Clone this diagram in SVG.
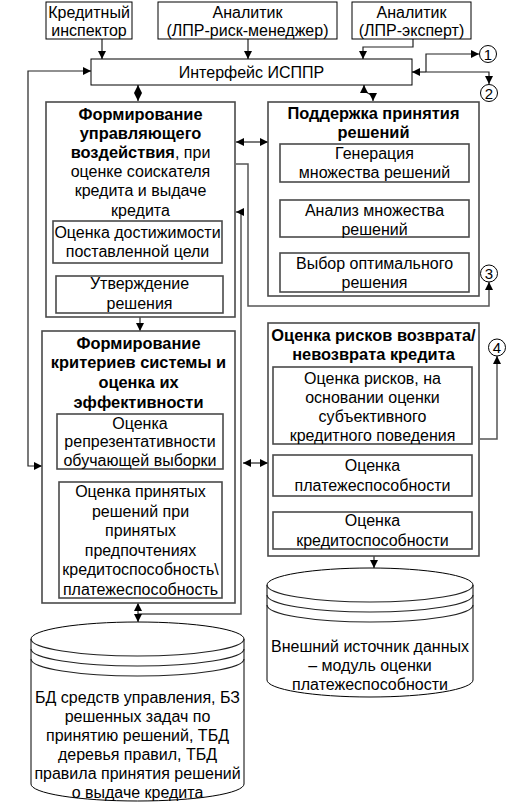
<svg xmlns="http://www.w3.org/2000/svg" width="527" height="805" viewBox="0 0 527 805">
<defs>
<style>
text{font-family:"Liberation Sans",Arial,sans-serif;font-size:16px;fill:#000;text-anchor:middle}
.b{font-weight:bold;font-size:16.4px}
.box{fill:#fff;stroke:#000;stroke-width:1}
.panel{fill:#fff;stroke:#4a4a4a;stroke-width:1.6}
.inner{fill:#fff;stroke:#4a4a4a;stroke-width:1.6}
.c{fill:none;stroke:#222;stroke-width:1.2}
.g{fill:none;stroke:#555;stroke-width:1.5}
.e{marker-end:url(#ah)}
.s{marker-start:url(#ah)}
.circ{fill:#fff;stroke:#000;stroke-width:1}
.cyl{fill:#fff;stroke:#000;stroke-width:1}
.num{font-size:15px}
</style>
<marker id="ah" viewBox="0 0 8 8" refX="8" refY="4" markerWidth="8" markerHeight="8" markerUnits="userSpaceOnUse" orient="auto-start-reverse">
<path d="M0,0 L8,4 L0,8 z" fill="#000"/>
</marker>
</defs>

<g id="connectors">
<path class="c e" d="M102,39 V59"/>
<path class="c e" d="M248,39 V59"/>
<path class="c e" d="M413,39 V47 H363 V59"/>
<path class="c s e" d="M91,71 H28 V466 H42"/>
<path class="c e" d="M426,72 H412"/>
<path class="c e" d="M426,72 V54 H479"/>
<path class="c e" d="M426,72 H489 V84"/>
<path class="c s e" d="M138,85 V101"/>
<path class="c s e" d="M364,85 V91 L373,96 V101"/>
<path class="c s e" d="M236,142 H268"/>
<path class="g e" d="M236,164 H248 V306 H489 V282"/>
<path class="g e" d="M138,614 H241 V212 H236"/>
<path class="c e" d="M140,263 V276"/>
<path class="c e" d="M140,317 V331"/>
<path class="c e" d="M141,469 V482"/>
<path class="c e" d="M374,182 V200"/>
<path class="c e" d="M374,237 V253"/>
<path class="c s e" d="M243,463 H268"/>
<path class="c e" d="M374,444 V455"/>
<path class="c e" d="M374,496 V512"/>
<path class="g e" d="M480,439 H497 V356"/>
<path class="c e" d="M374,556 V568"/>
<path class="c s e" d="M138,603 V622"/>
</g>

<g id="n-inspector">
<rect class="box" x="46" y="2" width="86" height="37"/>
<text x="89" y="17.5">Кредитный</text>
<text x="89" y="35.5">инспектор</text>
</g>
<g id="n-risk-manager">
<rect class="box" x="158" y="2" width="179" height="37"/>
<text x="247.5" y="17.5">Аналитик</text>
<text x="247.5" y="35.5">(ЛПР-риск-менеджер)</text>
</g>
<g id="n-expert">
<rect class="box" x="352" y="2" width="119" height="37"/>
<text x="411.5" y="17.5">Аналитик</text>
<text x="411.5" y="35.5">(ЛПР-эксперт)</text>
</g>
<g id="n-interface">
<rect class="box" x="91" y="59" width="321" height="26"/>
<text x="251.5" y="77.5">Интерфейс ИСППР</text>
</g>

<g id="c1"><circle class="circ" cx="488" cy="54" r="8.5"/><text class="num" x="488" y="59.5">1</text></g>
<g id="c2"><circle class="circ" cx="489" cy="93" r="8.5"/><text class="num" x="489" y="98.5">2</text></g>
<g id="c3"><circle class="circ" cx="489" cy="273.5" r="8.5"/><text class="num" x="489" y="279">3</text></g>
<g id="c4"><circle class="circ" cx="497" cy="347.5" r="8.5"/><text class="num" x="497" y="353">4</text></g>

<g id="n-control">
<rect class="panel" x="46" y="102" width="189" height="215"/>
<text class="b" x="140.5" y="119.5">Формирование</text>
<text class="b" x="140.5" y="138.7">управляющего</text>
<text x="140.5" y="157.9"><tspan class="b">воздействия</tspan>, при</text>
<text x="140.5" y="177.1">оценке соискателя</text>
<text x="140.5" y="196.3">кредита и выдаче</text>
<text x="140.5" y="215.5">кредита</text>
<rect class="inner" x="53" y="221" width="169" height="42"/>
<text x="137.5" y="238">Оценка достижимости</text>
<text x="137.5" y="257">поставленной цели</text>
<rect class="inner" x="56" y="276" width="167" height="37"/>
<text x="139.5" y="289">Утверждение</text>
<text x="139.5" y="309">решения</text>
</g>

<g id="n-support">
<rect class="panel" x="268" y="102" width="211" height="194"/>
<text class="b" x="373.5" y="119">Поддержка принятия</text>
<text class="b" x="373.5" y="137.5">решений</text>
<rect class="inner" x="280" y="144" width="189" height="38"/>
<text x="374.5" y="159">Генерация</text>
<text x="374.5" y="178">множества решений</text>
<rect class="inner" x="280" y="200" width="189" height="37"/>
<text x="374.5" y="215.5">Анализ множества</text>
<text x="374.5" y="234.5">решений</text>
<rect class="inner" x="280" y="253" width="189" height="39"/>
<text x="374.5" y="269">Выбор оптимального</text>
<text x="374.5" y="288">решения</text>
</g>

<g id="n-criteria">
<rect class="panel" x="42" y="331" width="193" height="272"/>
<text class="b" x="138.5" y="348.5">Формирование</text>
<text class="b" x="138.5" y="368">критериев системы и</text>
<text class="b" x="138.5" y="388">оценка их</text>
<text class="b" x="138.5" y="407.5">эффективности</text>
<rect class="inner" x="57" y="414" width="166" height="55"/>
<text x="140" y="428.5">Оценка</text>
<text x="140" y="447">репрезентативности</text>
<text x="140" y="465.5">обучающей выборки</text>
<rect class="inner" x="59" y="482" width="163" height="116"/>
<text x="140.5" y="497">Оценка принятых</text>
<text x="140.5" y="516.5">решений при</text>
<text x="140.5" y="536">принятых</text>
<text x="140.5" y="555.5">предпочтениях</text>
<text x="140.5" y="575">кредитоспособность\</text>
<text x="140.5" y="594.5">платежеспособность</text>
</g>

<g id="n-risk">
<rect class="panel" x="268" y="323" width="211" height="233"/>
<text class="b" x="373.5" y="340.5">Оценка рисков возврата/</text>
<text class="b" x="373.5" y="360">невозврата кредита</text>
<rect class="inner" x="273" y="367" width="199" height="77"/>
<text x="372.5" y="384">Оценка рисков, на</text>
<text x="372.5" y="403">основании оценки</text>
<text x="372.5" y="422">субъективного</text>
<text x="372.5" y="441">кредитного поведения</text>
<rect class="inner" x="273" y="455" width="199" height="41"/>
<text x="372.5" y="470.5">Оценка</text>
<text x="372.5" y="490.5">платежеспособности</text>
<rect class="inner" x="273" y="512" width="199" height="37"/>
<text x="372.5" y="526">Оценка</text>
<text x="372.5" y="546">кредитоспособности</text>
</g>

<g id="n-external-db">
<path class="cyl" d="M267,585 A103,17 0 0 1 473,585 V680 A103,17 0 0 1 267,680 Z"/>
<path class="c" d="M267,585 A103,17 0 0 0 473,585 M267,595 A103,17 0 0 0 473,595 M267,605 A103,17 0 0 0 473,605"/>
<text x="370" y="652">Внешний источник данных</text>
<text x="370" y="670.5">– модуль оценки</text>
<text x="370" y="690">платежеспособности</text>
</g>

<g id="n-db">
<path class="cyl" d="M31,639 A106.5,17 0 0 1 244,639 V784 A106.5,17 0 0 1 31,784 Z"/>
<path class="c" d="M31,639 A106.5,17 0 0 0 244,639 M31,649 A106.5,17 0 0 0 244,649 M31,659 A106.5,17 0 0 0 244,659"/>
<text x="137.5" y="702.5">БД средств управления, БЗ</text>
<text x="137.5" y="721.5">решенных задач по</text>
<text x="137.5" y="740.5">принятию решений, ТБД</text>
<text x="137.5" y="759.5">деревья правил, ТБД</text>
<text x="137.5" y="778.5">правила принятия решений</text>
<text x="137.5" y="797.5">о выдаче кредита</text>
</g>
</svg>
